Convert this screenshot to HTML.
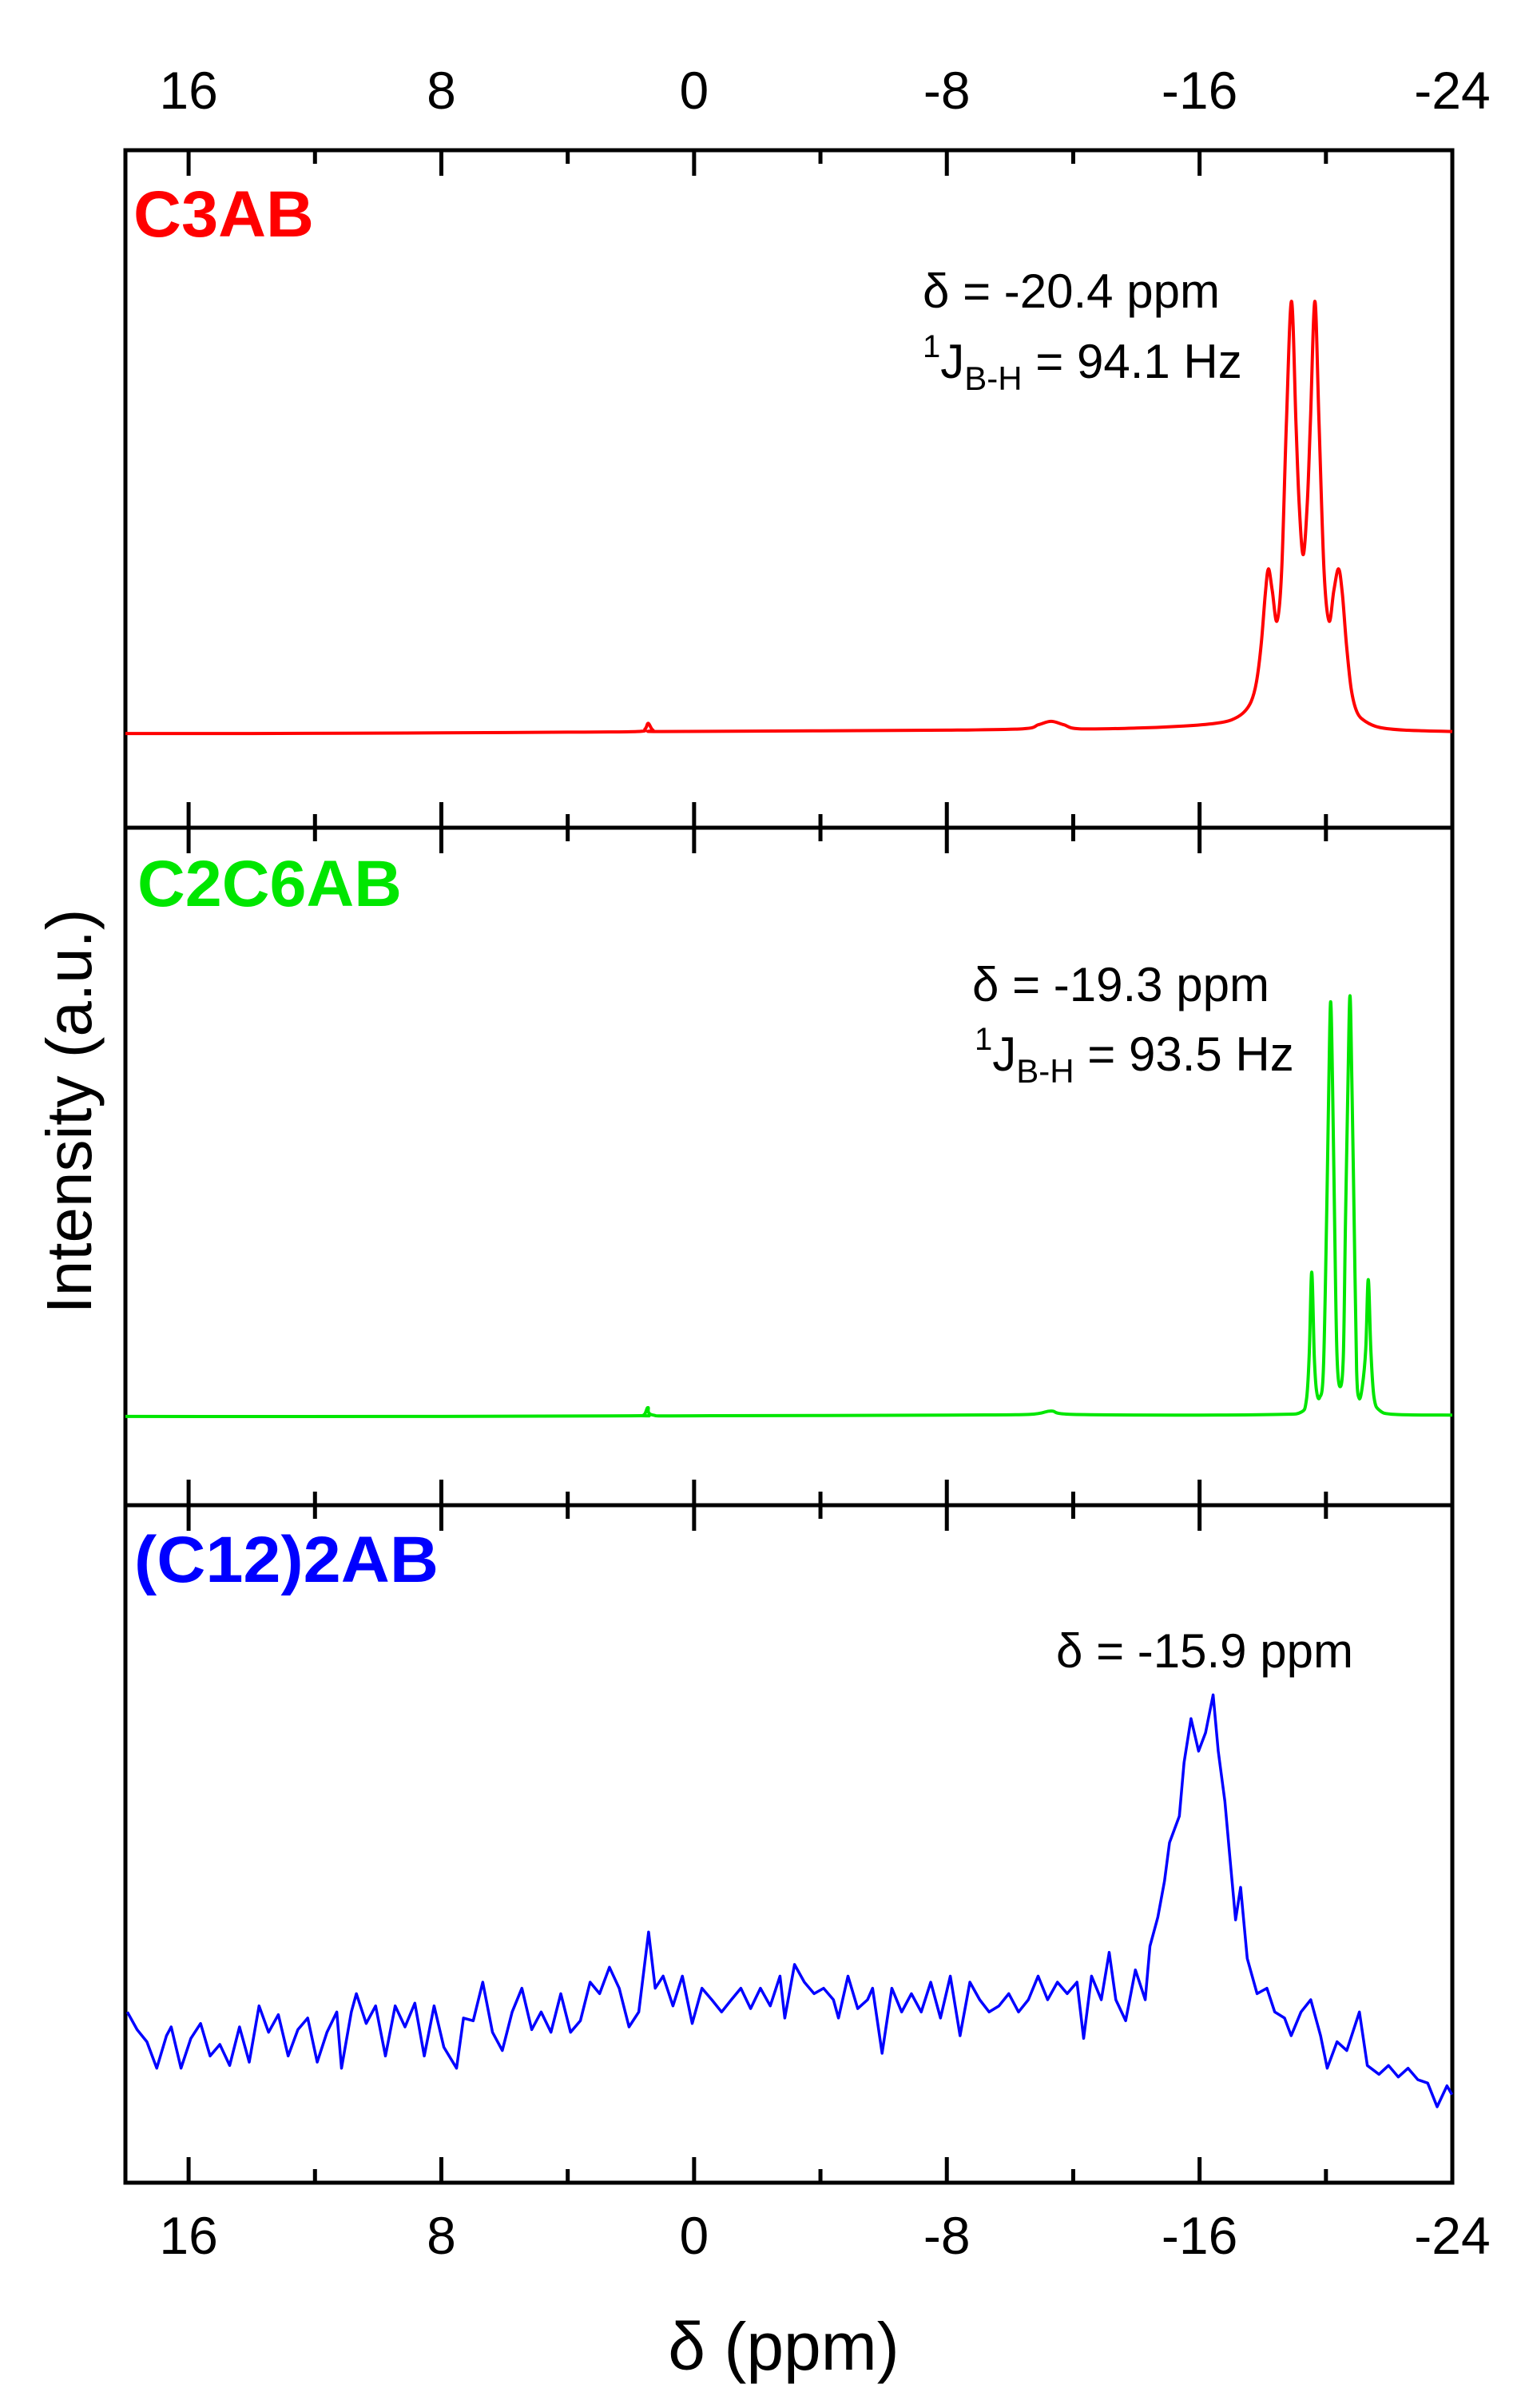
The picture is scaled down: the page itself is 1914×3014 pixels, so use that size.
<!DOCTYPE html>
<html><head><meta charset="utf-8"><style>
html,body{margin:0;padding:0;background:#fff}
svg{display:block}
text{font-family:"Liberation Sans",Arial,sans-serif}
</style></head>
<body>
<svg id="chart" width="1914" height="3014" viewBox="0 0 1914 3014" xmlns="http://www.w3.org/2000/svg">
<g id="frames"></g>
<g id="ticks"></g>
<g id="series"></g>
<g id="labels"></g>

<text x="981" y="2966" font-size="84" text-anchor="middle">δ (ppm)</text>
<text x="0" y="0" font-size="80" text-anchor="middle" transform="translate(114,1391) rotate(-90)">Intensity (a.u.)</text>

<text x="167" y="296" font-size="82" font-weight="bold" fill="#ff0000" textLength="226" lengthAdjust="spacingAndGlyphs">C3AB</text>
<text x="172" y="1134" font-size="82" font-weight="bold" fill="#00e600" textLength="331" lengthAdjust="spacingAndGlyphs">C2C6AB</text>
<text x="168" y="1980" font-size="82" font-weight="bold" fill="#0000ff" textLength="381" lengthAdjust="spacingAndGlyphs">(C12)2AB</text>

<text x="1155" y="385" font-size="60">δ = -20.4 ppm</text>
<text x="1155" y="473" font-size="60"><tspan font-size="40" dy="-26">1</tspan><tspan dy="26">J</tspan><tspan font-size="42" dy="15">B-H</tspan><tspan dy="-15"> = 94.1 Hz</tspan></text>
<text x="1217" y="1253" font-size="60">δ = -19.3 ppm</text>
<text x="1220" y="1340" font-size="60"><tspan font-size="40" dy="-26">1</tspan><tspan dy="26">J</tspan><tspan font-size="42" dy="15">B-H</tspan><tspan dy="-15"> = 93.5 Hz</tspan></text>
<text x="1322" y="2087" font-size="60">δ = -15.9 ppm</text>
</svg>
<script>
// axis ticks
const majorTicks = [16, 8, 0, -8, -16, -24];
const minorTicks = [12, 4, -4, -12, -20];
const tickLabels = ["16", "8", "0", "-8", "-16", "-24"];

// C3AB (red) spectrum: ppm and intensity (a.u., 0..100 per panel)
const redPpm = [18, 14, 8, 4, 1.8, 1.55, 1.45, 1.3, 1.0, -4, -8, -10.4, -10.9, -11.3, -11.7, -12.2, -14, -15.5, -16.5, -17.0, -17.37, -17.63, -17.8, -17.95, -18.08, -18.18, -18.3, -18.45, -18.6, -18.75, -18.91, -19.05, -19.15, -19.28, -19.41, -19.51, -19.65, -19.78, -19.94, -20.1, -20.25, -20.40, -20.52, -20.65, -20.8, -20.98, -21.25, -21.7, -22.5, -24];
const redVal = [13.9, 13.9, 14.0, 14.1, 14.2, 14.6, 15.4, 14.4, 14.2, 14.3, 14.4, 14.6, 15.2, 15.7, 15.2, 14.6, 14.7, 15.0, 15.4, 15.9, 16.9, 18.6, 21.5, 27.0, 34.5, 38.2, 35.0, 30.5, 38.0, 60.0, 77.7, 60.0, 48.0, 40.3, 48.0, 60.0, 77.7, 60.0, 38.0, 30.5, 35.0, 38.2, 34.5, 27.0, 20.5, 17.1, 15.7, 14.8, 14.4, 14.2];

// C2C6AB (green) spectrum
const greenPpm = [18, 8, 2, 1.6, 1.46, 1.3, 0, -8, -10.6, -11.3, -12.0, -16, -18.5, -19.2, -19.38, -19.47, -19.55, -19.63, -19.7, -19.8, -19.92, -20.02, -20.09, -20.15, -20.21, -20.28, -20.35, -20.45, -20.55, -20.62, -20.70, -20.76, -20.82, -20.9, -20.97, -21.05, -21.15, -21.26, -21.34, -21.42, -21.52, -21.7, -22.2, -24];
const greenVal = [13.1, 13.1, 13.2, 13.3, 14.4, 13.3, 13.2, 13.3, 13.4, 13.9, 13.4, 13.3, 13.4, 13.7, 15.5, 22.0, 34.4, 22.0, 17.0, 15.9, 20.0, 42.0, 62.0, 74.3, 62.0, 40.0, 22.0, 17.5, 22.0, 42.0, 63.0, 75.2, 63.0, 40.0, 20.0, 15.8, 17.5, 23.0, 33.3, 23.0, 16.0, 14.0, 13.4, 13.3];

// (C12)2AB (blue) spectrum
const bluePpm = [17.94,17.63,17.32,17.01,16.70,16.55,16.24,15.93,15.62,15.32,15.01,14.70,14.39,14.08,13.77,13.47,13.16,12.85,12.54,12.23,11.93,11.62,11.31,11.16,10.85,10.69,10.38,10.08,9.77,9.46,9.15,8.84,8.54,8.23,7.92,7.52,7.30,6.99,6.69,6.38,6.07,5.76,5.45,5.14,4.84,4.53,4.22,3.91,3.60,3.29,2.99,2.68,2.37,2.06,1.75,1.44,1.23,0.98,0.67,0.37,0.06,-0.25,-0.56,-0.87,-1.18,-1.48,-1.79,-2.10,-2.41,-2.72,-2.87,-3.18,-3.49,-3.80,-4.10,-4.41,-4.57,-4.87,-5.18,-5.49,-5.65,-5.95,-6.26,-6.57,-6.88,-7.19,-7.49,-7.80,-8.11,-8.42,-8.73,-9.04,-9.34,-9.65,-9.96,-10.27,-10.58,-10.89,-11.19,-11.50,-11.81,-12.12,-12.33,-12.58,-12.89,-13.14,-13.35,-13.66,-13.97,-14.28,-14.43,-14.68,-14.89,-15.05,-15.36,-15.51,-15.73,-15.97,-16.19,-16.43,-16.59,-16.80,-16.96,-17.14,-17.30,-17.51,-17.82,-18.13,-18.38,-18.69,-18.90,-19.21,-19.52,-19.83,-20.04,-20.35,-20.66,-21.06,-21.31,-21.68,-21.98,-22.29,-22.60,-22.91,-23.22,-23.52,-23.83,-23.99];
const blueVal = [25.2,22.6,20.8,16.9,21.7,23.0,16.9,21.3,23.5,18.7,20.4,17.3,23.0,17.8,26.1,22.2,24.8,18.7,22.6,24.3,17.8,22.2,25.2,16.9,25.2,27.9,23.5,26.1,18.7,26.1,23.0,26.5,18.7,26.1,20.0,16.9,24.3,23.9,29.6,22.2,19.5,25.2,28.7,22.6,25.2,22.2,27.9,22.2,23.9,29.6,27.9,31.8,28.7,23.0,25.2,37.0,28.7,30.5,26.1,30.5,23.5,28.7,27.0,25.2,27.0,28.7,25.7,28.7,26.1,30.5,24.3,32.2,29.6,27.9,28.7,27.0,24.3,30.5,25.7,27.0,28.7,19.1,28.7,25.2,27.9,25.2,29.6,24.3,30.5,21.7,29.6,27.0,25.2,26.1,27.9,25.2,27.0,30.5,27.0,29.6,27.9,29.6,21.3,30.5,27.0,34.0,27.0,23.9,31.4,27.0,34.9,39.2,44.5,50.2,54.1,62.0,68.5,63.7,66.4,72.0,63.7,56.3,48.0,38.8,43.6,33.1,27.9,28.7,25.2,24.3,21.7,25.2,27.0,21.7,16.9,20.8,19.5,25.2,17.3,16.0,17.3,15.6,16.9,15.2,14.7,11.2,14.3,13.0];

const X0 = 157, X1 = 1818;
const panels = [
  {top: 188, bottom: 1036, name: 'c3ab'},
  {top: 1036, bottom: 1884, name: 'c2c6ab'},
  {top: 1884, bottom: 2732, name: 'c12-2ab'}
];
function xs(ppm){ return X0 + (18 - ppm) * (X1 - X0) / 42; }
function ys(v, p){ return p.bottom - v * (p.bottom - p.top) / 100; }

const NS = 'http://www.w3.org/2000/svg';
function mk(tag, attrs, parent){
  const e = document.createElementNS(NS, tag);
  for (const k in attrs) e.setAttribute(k, attrs[k]);
  parent.appendChild(e);
  return e;
}
const gF = document.getElementById('frames');
const gT = document.getElementById('ticks');
const gS = document.getElementById('series');
const gL = document.getElementById('labels');

panels.forEach(p => {
  const r = mk('rect', {x: X0, y: p.top, width: X1 - X0, height: p.bottom - p.top, fill: 'none', stroke: '#000', 'stroke-width': 5}, gF);
  
  
  majorTicks.forEach(t => {
    [[p.top, p.top + 32], [p.bottom, p.bottom - 32]].forEach(([a, b]) => {
      const l = mk('line', {x1: xs(t), x2: xs(t), y1: a, y2: b, stroke: '#000', 'stroke-width': 5}, gT);
      
      
    });
  });
  minorTicks.forEach(t => {
    [[p.top, p.top + 17], [p.bottom, p.bottom - 17]].forEach(([a, b]) => {
      const l = mk('line', {x1: xs(t), x2: xs(t), y1: a, y2: b, stroke: '#000', 'stroke-width': 5}, gT);
      
      
    });
  });
});

majorTicks.forEach((t, i) => {
  [136, 2821].forEach(y => {
    const tx = mk('text', {x: xs(t), y: y, 'font-size': 66, 'text-anchor': 'middle'}, gL);
    tx.textContent = tickLabels[i];
    
    
  });
});

function smoothPath(pts){
  let d = 'M' + pts[0][0].toFixed(1) + ',' + pts[0][1].toFixed(1);
  for (let i = 0; i < pts.length - 1; i++){
    const p0 = pts[Math.max(0, i - 1)], p1 = pts[i], p2 = pts[i + 1], p3 = pts[Math.min(pts.length - 1, i + 2)];
    const c1x = p1[0] + (p2[0] - p0[0]) / 6, c1y = p1[1] + (p2[1] - p0[1]) / 6;
    const c2x = p2[0] - (p3[0] - p1[0]) / 6, c2y = p2[1] - (p3[1] - p1[1]) / 6;
    d += ' C' + c1x.toFixed(1) + ',' + c1y.toFixed(1) + ' ' + c2x.toFixed(1) + ',' + c2y.toFixed(1) + ' ' + p2[0].toFixed(1) + ',' + p2[1].toFixed(1);
  }
  return d;
}

const redPts = redPpm.map((x, i) => [xs(x), ys(redVal[i], panels[0])]);
const red = mk('path', {d: smoothPath(redPts), fill: 'none', stroke: '#ff0000', 'stroke-width': 4, 'stroke-linejoin': 'round'}, gS);



const greenPts = greenPpm.map((x, i) => [xs(x), ys(greenVal[i], panels[1])]);
const green = mk('path', {d: smoothPath(greenPts), fill: 'none', stroke: '#00e600', 'stroke-width': 4, 'stroke-linejoin': 'round'}, gS);



const bluePts = bluePpm.map((x, i) => xs(x).toFixed(1) + ',' + ys(blueVal[i], panels[2]).toFixed(1));
const blue = mk('polyline', {points: bluePts.join(' '), fill: 'none', stroke: '#0000ff', 'stroke-width': 3.5, 'stroke-linejoin': 'round'}, gS);


</script>
</body></html>
